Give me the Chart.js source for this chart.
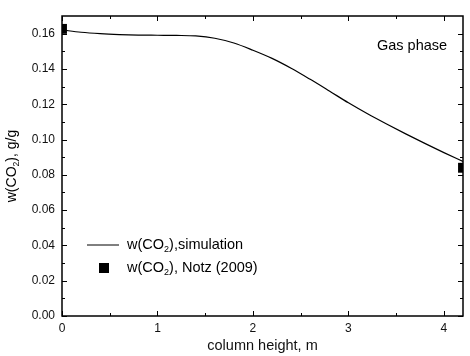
<!DOCTYPE html>
<html>
<head>
<meta charset="utf-8">
<script src="https://cdn.jsdelivr.net/npm/chart.js@4.4.1/dist/chart.umd.min.js"></script>
<style>
  html, body { margin: 0; padding: 0; background: #fff; }
  #wrap { width: 470px; height: 356px; position: relative; }
</style>
</head>
<body>
<div id="wrap"><canvas id="chart"></canvas></div>
<script>
// simulation curve, column height (m) vs mass fraction of CO2
const simHeight = [0, 0.2, 0.4, 0.6, 0.8, 1.0, 1.2, 1.4, 1.6, 1.8, 2.0, 2.2, 2.4, 2.6, 2.8, 3.0, 3.2, 3.4, 3.6, 3.8, 4.0, 4.2];
const simW = [0.1621, 0.1608, 0.1600, 0.1595, 0.1592, 0.1591, 0.1590, 0.1587, 0.1574, 0.1547, 0.1506, 0.1460, 0.1404, 0.1341, 0.1275, 0.1208, 0.1146, 0.1088, 0.1032, 0.0978, 0.0926, 0.0876];

// Notz (2009) measurements
const expHeight = [0, 4.2];
const expW = [0.1627, 0.084];

const xTicks = [0, 1, 2, 3, 4];
const xMinor = [0.5, 1.5, 2.5, 3.5];
const yTicks = [0, 0.02, 0.04, 0.06, 0.08, 0.10, 0.12, 0.14, 0.16];
const yMinor = [0.01, 0.03, 0.05, 0.07, 0.09, 0.11, 0.13, 0.15];

const FONT = 'Arial, "Liberation Sans", sans-serif';

// draws text pieces, some as subscript
function drawRich(ctx, parts, x, y, size) {
  let cx = x;
  parts.forEach(p => {
    const s = p.sub ? size * 0.62 : size;
    ctx.font = s + 'px ' + FONT;
    ctx.fillText(p.t, cx, p.sub ? y + size * 0.3 : y);
    cx += ctx.measureText(p.t).width;
  });
  return cx - x;
}

function richWidth(ctx, parts, size) {
  let w = 0;
  parts.forEach(p => {
    ctx.font = (p.sub ? size * 0.62 : size) + 'px ' + FONT;
    w += ctx.measureText(p.t).width;
  });
  return w;
}

const framePlugin = {
  id: 'frame',
  afterDatasetsDraw(chart) {
    const ctx = chart.ctx;
    const a = chart.chartArea;
    const xs = chart.scales.x, ys = chart.scales.y;
    ctx.save();
    ctx.strokeStyle = '#000';
    ctx.lineWidth = 1.5;
    ctx.strokeRect(a.left, a.top, a.right - a.left, a.bottom - a.top);

    ctx.lineWidth = 1;
    ctx.beginPath();
    const tx = (v, len) => {
      const px = Math.round(xs.getPixelForValue(v)) + 0.5;
      ctx.moveTo(px, a.bottom); ctx.lineTo(px, a.bottom - len);
      ctx.moveTo(px, a.top); ctx.lineTo(px, a.top + len);
    };
    const ty = (v, len) => {
      const py = Math.round(ys.getPixelForValue(v)) + 0.5;
      ctx.moveTo(a.left, py); ctx.lineTo(a.left + len, py);
      ctx.moveTo(a.right, py); ctx.lineTo(a.right - len, py);
    };
    xTicks.forEach(v => tx(v, 5));
    xMinor.forEach(v => tx(v, 3));
    yTicks.forEach(v => ty(v, 5));
    yMinor.forEach(v => ty(v, 3));
    ctx.stroke();

    // legend
    ctx.fillStyle = '#000';
    ctx.textBaseline = 'middle';
    ctx.textAlign = 'left';
    const lx = a.left + 25, ly1 = a.top + 229, ly2 = a.top + 252;
    ctx.beginPath();
    ctx.moveTo(lx, ly1); ctx.lineTo(lx + 32, ly1);
    ctx.stroke();
    ctx.fillRect(lx + 12, ly2 - 5, 10, 10);
    drawRich(ctx, [{t: 'w(CO'}, {t: '2', sub: true}, {t: '),simulation'}], lx + 40, ly1, 14.5);
    drawRich(ctx, [{t: 'w(CO'}, {t: '2', sub: true}, {t: '), Notz (2009)'}], lx + 40, ly2, 14.5);

    // annotation
    ctx.font = '14.5px ' + FONT;
    ctx.fillText('Gas phase', a.left + 315, a.top + 30);

    // y axis title
    const yParts = [{t: 'w(CO'}, {t: '2', sub: true}, {t: '), g/g'}];
    const w = richWidth(ctx, yParts, 14);
    ctx.translate(12, (a.top + a.bottom) / 2);
    ctx.rotate(-Math.PI / 2);
    drawRich(ctx, yParts, -w / 2, 0, 14);
    ctx.restore();
  }
};

new Chart(document.getElementById('chart'), {
  type: 'scatter',
  data: {
    datasets: [{
      label: 'simulation',
      data: simHeight.map((h, i) => ({ x: h, y: simW[i] })),
      showLine: true,
      borderColor: '#000',
      borderWidth: 1.2,
      pointRadius: 0,
      cubicInterpolationMode: 'monotone'
    }, {
      label: 'Notz (2009)',
      data: expHeight.map((h, i) => ({ x: h, y: expW[i] })),
      showLine: false,
      pointStyle: 'rect',
      pointRadius: 7,
      backgroundColor: '#000',
      borderColor: '#000',
      borderWidth: 0
    }]
  },
  options: {
    responsive: true,
    maintainAspectRatio: false,
    animation: false,
    layout: { padding: { top: 16, right: 1, left: 0, bottom: 0 } },
    plugins: {
      legend: { display: false },
      tooltip: { enabled: false }
    },
    scales: {
      x: {
        type: 'linear',
        min: 0,
        max: 4.2,
        grid: { display: false, drawTicks: false },
        border: { display: false },
        afterBuildTicks: s => { s.ticks = xTicks.map(v => ({ value: v })); },
        afterFit: s => { s.height = 40; },
        ticks: {
          padding: 5,
          color: '#111',
          font: { family: FONT, size: 12 },
          callback: v => String(v)
        },
        title: {
          display: true,
          text: 'column height, m',
          color: '#111',
          padding: { top: 0, bottom: 1 },
          font: { family: FONT, size: 14.5 }
        }
      },
      y: {
        min: 0,
        max: 0.17,
        grid: { display: false, drawTicks: false },
        border: { display: false },
        afterBuildTicks: s => { s.ticks = yTicks.map(v => ({ value: v })); },
        afterFit: s => { s.width = 62; },
        ticks: {
          padding: 7,
          color: '#111',
          font: { family: FONT, size: 12 },
          callback: v => v.toFixed(2)
        }
      }
    }
  },
  plugins: [framePlugin]
});
</script>
</body>
</html>
